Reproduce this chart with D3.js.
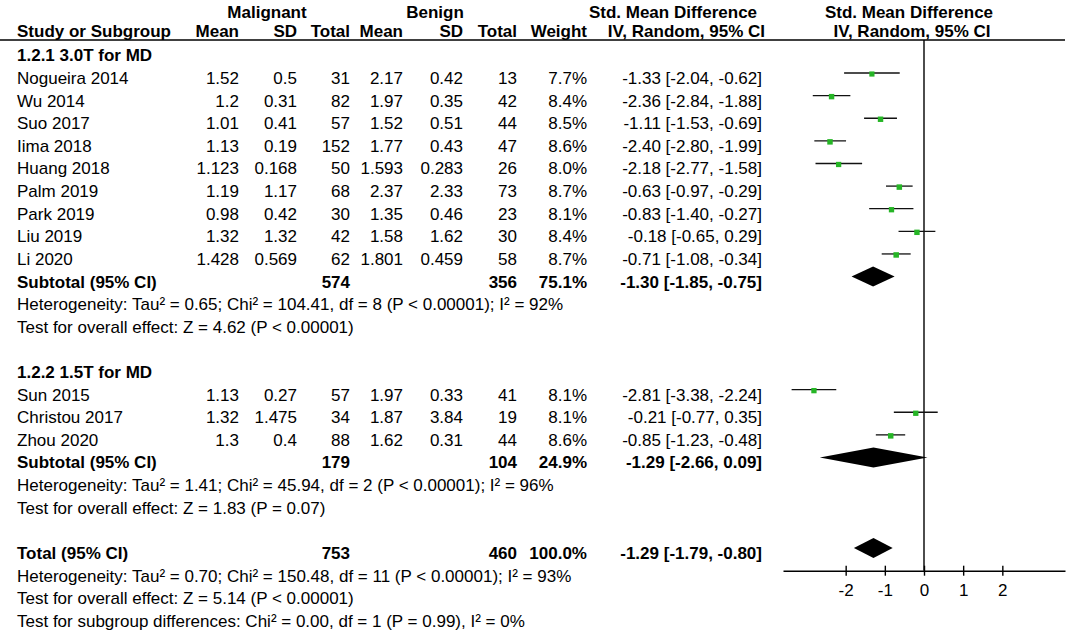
<!DOCTYPE html>
<html>
<head>
<meta charset="utf-8">
<script src="https://cdn.jsdelivr.net/npm/d3@7"></script>
<style>
  body { margin: 0; background: #fff; }
  svg text { font-family: "Liberation Sans", Arial, sans-serif; font-size: 17px; fill: #000; }
  svg text.b { font-weight: bold; }
</style>
</head>
<body>
<svg id="chart" width="1084" height="631"></svg>
<script>
// study level data
var studies = ['Nogueira 2014', 'Wu 2014', 'Suo 2017', 'Iima 2018', 'Huang 2018', 'Palm 2019',
  'Park 2019', 'Liu 2019', 'Li 2020', 'Sun 2015', 'Christou 2017', 'Zhou 2020'];
var studyGroup = [0, 0, 0, 0, 0, 0, 0, 0, 0, 1, 1, 1];
var malMean = [1.52, 1.2, 1.01, 1.13, 1.123, 1.19, 0.98, 1.32, 1.428, 1.13, 1.32, 1.3];
var malSD = [0.5, 0.31, 0.41, 0.19, 0.168, 1.17, 0.42, 1.32, 0.569, 0.27, 1.475, 0.4];
var malTotal = [31, 82, 57, 152, 50, 68, 30, 42, 62, 57, 34, 88];
var benMean = [2.17, 1.97, 1.52, 1.77, 1.593, 2.37, 1.35, 1.58, 1.801, 1.97, 1.87, 1.62];
var benSD = [0.42, 0.35, 0.51, 0.43, 0.283, 2.33, 0.46, 1.62, 0.459, 0.33, 3.84, 0.31];
var benTotal = [13, 42, 44, 47, 26, 73, 23, 30, 58, 41, 19, 44];
var weight = [7.7, 8.4, 8.5, 8.6, 8.0, 8.7, 8.1, 8.4, 8.7, 8.1, 8.1, 8.6];
var smd = [-1.33, -2.36, -1.11, -2.40, -2.18, -0.63, -0.83, -0.18, -0.71, -2.81, -0.21, -0.85];
var ciLow = [-2.04, -2.84, -1.53, -2.80, -2.77, -0.97, -1.40, -0.65, -1.08, -3.38, -0.77, -1.23];
var ciHigh = [-0.62, -1.88, -0.69, -1.99, -1.58, -0.29, -0.27, 0.29, -0.34, -2.24, 0.35, -0.48];

// subgroup level data
var groupLabels = ['1.2.1 3.0T for MD', '1.2.2 1.5T for MD'];
var subMalTotal = [574, 179];
var subBenTotal = [356, 104];
var subWeight = [75.1, 24.9];
var subSmd = [-1.30, -1.29];
var subLow = [-1.85, -2.66];
var subHigh = [-0.75, 0.09];
var subNotes = [
  ['Heterogeneity: Tau\u00b2 = 0.65; Chi\u00b2 = 104.41, df = 8 (P < 0.00001); I\u00b2 = 92%',
   'Test for overall effect: Z = 4.62 (P < 0.00001)'],
  ['Heterogeneity: Tau\u00b2 = 1.41; Chi\u00b2 = 45.94, df = 2 (P < 0.00001); I\u00b2 = 96%',
   'Test for overall effect: Z = 1.83 (P = 0.07)']
];

// overall
var totalMal = 753, totalBen = 460, totalWeight = 100.0;
var totalSmd = -1.29, totalLow = -1.79, totalHigh = -0.80;
var totalNotes = [
  'Heterogeneity: Tau\u00b2 = 0.70; Chi\u00b2 = 150.48, df = 11 (P < 0.00001); I\u00b2 = 93%',
  'Test for overall effect: Z = 5.14 (P < 0.00001)',
  'Test for subgroup differences: Chi\u00b2 = 0.00, df = 1 (P = 0.99), I\u00b2 = 0%'
];
var axisTicks = [-2, -1, 0, 1, 2];

// column layout (right edges unless noted)
var col = {
  study: 17, malMean: 239, malSD: 297, malTotal: 350,
  benMean: 403, benSD: 463, benTotal: 517, weight: 587, ci: 762
};

var svg = d3.select('#chart');
var x = d3.scaleLinear().domain([-3.6, 3.6]).range([783, 1065]);
var baseY = d3.scaleLinear().domain([0, 25]).range([61.4, 626.8]);
var headLineY = 40, axisY = 570.7, markOffset = 11;
var boxSize = d3.scaleSqrt().domain([0, 8.7]).range([0, 5.5]);

function fmtCI(m, lo, hi) {
  return m.toFixed(2) + ' [' + lo.toFixed(2) + ', ' + hi.toFixed(2) + ']';
}
function pct(w) { return w.toFixed(1) + '%'; }

// build the row list
var rows = [];
var r = 0;
groupLabels.forEach(function(label, g) {
  rows.push({ r: r++, kind: 'group', g: g });
  studies.forEach(function(s, i) {
    if (studyGroup[i] === g) { rows.push({ r: r++, kind: 'study', i: i }); }
  });
  rows.push({ r: r++, kind: 'subtotal', g: g });
  subNotes[g].forEach(function(t) { rows.push({ r: r++, kind: 'note', text: t }); });
  r++;
});
rows.push({ r: r++, kind: 'total' });
totalNotes.forEach(function(t) { rows.push({ r: r++, kind: 'note', text: t }); });

function cells(row) {
  var c = [];
  if (row.kind === 'group') {
    c.push({ x: col.study, a: 'start', b: true, t: groupLabels[row.g] });
  } else if (row.kind === 'note') {
    c.push({ x: col.study, a: 'start', b: false, t: row.text });
  } else if (row.kind === 'study') {
    var i = row.i;
    c.push({ x: col.study, a: 'start', t: studies[i] });
    c.push({ x: col.malMean, a: 'end', t: String(malMean[i]) });
    c.push({ x: col.malSD, a: 'end', t: String(malSD[i]) });
    c.push({ x: col.malTotal, a: 'end', t: String(malTotal[i]) });
    c.push({ x: col.benMean, a: 'end', t: String(benMean[i]) });
    c.push({ x: col.benSD, a: 'end', t: String(benSD[i]) });
    c.push({ x: col.benTotal, a: 'end', t: String(benTotal[i]) });
    c.push({ x: col.weight, a: 'end', t: pct(weight[i]) });
    c.push({ x: col.ci, a: 'end', t: fmtCI(smd[i], ciLow[i], ciHigh[i]) });
  } else if (row.kind === 'subtotal') {
    var g = row.g;
    c.push({ x: col.study, a: 'start', b: true, t: 'Subtotal (95% CI)' });
    c.push({ x: col.malTotal, a: 'end', b: true, t: String(subMalTotal[g]) });
    c.push({ x: col.benTotal, a: 'end', b: true, t: String(subBenTotal[g]) });
    c.push({ x: col.weight, a: 'end', b: true, t: pct(subWeight[g]) });
    c.push({ x: col.ci, a: 'end', b: true, t: fmtCI(subSmd[g], subLow[g], subHigh[g]) });
  } else if (row.kind === 'total') {
    c.push({ x: col.study, a: 'start', b: true, t: 'Total (95% CI)' });
    c.push({ x: col.malTotal, a: 'end', b: true, t: String(totalMal) });
    c.push({ x: col.benTotal, a: 'end', b: true, t: String(totalBen) });
    c.push({ x: col.weight, a: 'end', b: true, t: pct(totalWeight) });
    c.push({ x: col.ci, a: 'end', b: true, t: fmtCI(totalSmd, totalLow, totalHigh) });
  }
  return c;
}

// headers
var head = svg.append('g').attr('class', 'headers');
var headers = [
  { x: 267, y: 18, a: 'middle', t: 'Malignant' },
  { x: 435, y: 18, a: 'middle', t: 'Benign' },
  { x: 673, y: 18, a: 'middle', t: 'Std. Mean Difference' },
  { x: 909, y: 18, a: 'middle', t: 'Std. Mean Difference' },
  { x: col.study, y: 37, a: 'start', t: 'Study or Subgroup' },
  { x: col.malMean, y: 37, a: 'end', t: 'Mean' },
  { x: col.malSD, y: 37, a: 'end', t: 'SD' },
  { x: col.malTotal, y: 37, a: 'end', t: 'Total' },
  { x: col.benMean, y: 37, a: 'end', t: 'Mean' },
  { x: col.benSD, y: 37, a: 'end', t: 'SD' },
  { x: col.benTotal, y: 37, a: 'end', t: 'Total' },
  { x: col.weight, y: 37, a: 'end', t: 'Weight' },
  { x: 765, y: 37, a: 'end', t: 'IV, Random, 95% CI' },
  { x: 912, y: 37, a: 'middle', t: 'IV, Random, 95% CI' }
];
head.selectAll('text').data(headers).enter().append('text')
  .attr('class', 'b')
  .attr('x', function(d) { return d.x; })
  .attr('y', function(d) { return d.y; })
  .attr('text-anchor', function(d) { return d.a; })
  .text(function(d) { return d.t; });

head.append('line')
  .attr('x1', 0).attr('x2', x.range()[1])
  .attr('y1', headLineY).attr('y2', headLineY)
  .attr('stroke', '#000').attr('stroke-width', 1.4);

// table body
var body = svg.append('g').attr('class', 'rows');
body.selectAll('g.row').data(rows).enter().append('g')
  .attr('class', 'row')
  .attr('transform', function(d) { return 'translate(0,' + baseY(d.r) + ')'; })
  .each(function(d) {
    d3.select(this).selectAll('text').data(cells(d)).enter().append('text')
      .attr('class', function(c) { return c.b ? 'b' : null; })
      .attr('x', function(c) { return c.x; })
      .attr('text-anchor', function(c) { return c.a; })
      .text(function(c) { return c.t; });
  });

// forest plot
var plot = svg.append('g').attr('class', 'forest');

plot.append('line')
  .attr('x1', x(0)).attr('x2', x(0))
  .attr('y1', headLineY).attr('y2', axisY)
  .attr('stroke', '#000').attr('stroke-width', 1.4);

var studyRows = rows.filter(function(d) { return d.kind === 'study'; });
plot.selectAll('line.ci').data(studyRows).enter().append('line')
  .attr('class', 'ci')
  .attr('x1', function(d) { return x(ciLow[d.i]); })
  .attr('x2', function(d) { return x(ciHigh[d.i]); })
  .attr('y1', function(d) { return baseY(d.r) - markOffset; })
  .attr('y2', function(d) { return baseY(d.r) - markOffset; })
  .attr('stroke', '#111').attr('stroke-width', 1.3);

plot.selectAll('rect.box').data(studyRows).enter().append('rect')
  .attr('class', 'box')
  .attr('x', function(d) { return x(smd[d.i]) - boxSize(weight[d.i]) / 2; })
  .attr('y', function(d) { return baseY(d.r) - markOffset + 1 - boxSize(weight[d.i]) / 2; })
  .attr('width', function(d) { return boxSize(weight[d.i]); })
  .attr('height', function(d) { return boxSize(weight[d.i]); })
  .attr('fill', '#26b526');

var pooled = rows.filter(function(d) { return d.kind === 'subtotal' || d.kind === 'total'; })
  .map(function(d) {
    var tot = d.kind === 'total';
    return {
      r: d.r,
      m: tot ? totalSmd : subSmd[d.g],
      lo: tot ? totalLow : subLow[d.g],
      hi: tot ? totalHigh : subHigh[d.g]
    };
  });
plot.selectAll('path.diamond').data(pooled).enter().append('path')
  .attr('class', 'diamond')
  .attr('d', function(d) {
    var cy = baseY(d.r) - markOffset, h = 10;
    return 'M' + x(d.lo) + ',' + cy + 'L' + x(d.m) + ',' + (cy - h) +
      'L' + x(d.hi) + ',' + cy + 'L' + x(d.m) + ',' + (cy + h) + 'Z';
  })
  .attr('fill', '#000');

var axis = d3.axisBottom(x)
  .tickValues(axisTicks)
  .tickSizeInner(5)
  .tickSizeOuter(0)
  .tickPadding(8)
  .tickFormat(function(d) { return String(d); });

var ax = plot.append('g')
  .attr('transform', 'translate(0,' + axisY + ')')
  .call(axis);
ax.select('.domain').attr('stroke', '#000').attr('stroke-width', 1.4);
ax.selectAll('.tick line').attr('y1', -5).attr('stroke', '#000').attr('stroke-width', 1.4);
ax.selectAll('.tick text')
  .attr('fill', '#000')
  .style('font-family', '"Liberation Sans", Arial, sans-serif')
  .style('font-size', '17px');
</script>
</body>
</html>
